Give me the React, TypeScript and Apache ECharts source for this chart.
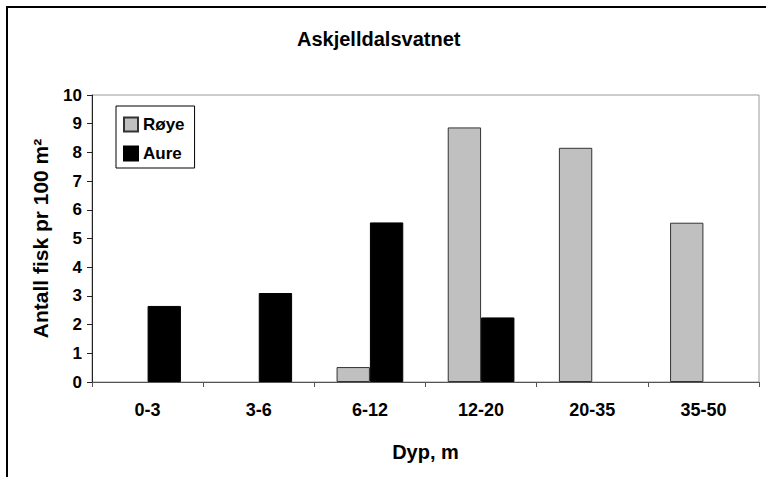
import React, { useEffect, useRef } from "react";
import * as echarts from "echarts";

const categories = ["0-3", "3-6", "6-12", "12-20", "20-35", "35-50"];
const royeValues: (number | null)[] = [null, null, 0.52, 8.87, 8.16, 5.55];
const aureValues: (number | null)[] = [2.65, 3.1, 5.56, 2.25, null, null];
const yTicks = [0, 1, 2, 3, 4, 5, 6, 7, 8, 9, 10];

const FONT = "Liberation Sans, Arial, sans-serif";

export default function App() {
  const ref = useRef<HTMLDivElement>(null);
  useEffect(() => {
    if (!ref.current) return;
    const chart = echarts.init(ref.current, undefined, { renderer: "svg" });
    chart.setOption({
      animation: false,
      backgroundColor: "#ffffff",
      title: {
        text: "Askjelldalsvatnet",
        left: 292,
        top: 24,
        textStyle: { fontFamily: FONT, fontWeight: "bold", fontSize: 20, color: "#000" },
      },
      legend: {
        orient: "vertical",
        left: 116,
        top: 106,
        padding: [10, 10, 6, 7],
        itemWidth: 14,
        itemHeight: 14,
        itemGap: 12,
        borderColor: "#000",
        borderWidth: 1,
        backgroundColor: "#fff",
        icon: "rect",
        textStyle: { fontFamily: FONT, fontWeight: "bold", fontSize: 17, color: "#000" },
        data: ["Røye", "Aure"],
      },
      graphic: [
        {
          type: "rect",
          shape: { x: 7, y: 7, width: 820, height: 520 },
          style: { fill: "none", stroke: "#000", lineWidth: 2 },
          silent: true,
        },
      ],
      grid: {
        left: 92,
        right: 7,
        top: 95,
        bottom: 95,
        show: true,
        borderColor: "#9a9a9a",
        borderWidth: 1,
        containLabel: false,
      },
      xAxis: {
        type: "category",
        data: categories,
        name: "Dyp, m",
        nameLocation: "middle",
        nameGap: 60,
        nameTextStyle: { fontFamily: FONT, fontWeight: "bold", fontSize: 20, color: "#000" },
        axisLine: { lineStyle: { color: "#555", width: 1 } },
        axisTick: { show: true, alignWithLabel: false, length: 5, lineStyle: { color: "#555" } },
        axisLabel: { margin: 19, fontFamily: FONT, fontWeight: "bold", fontSize: 18, color: "#000" },
        splitLine: { show: false },
      },
      yAxis: {
        type: "value",
        min: 0,
        max: 10,
        interval: 1,
        name: "Antall fisk pr 100 m²",
        nameLocation: "middle",
        nameRotate: 90,
        nameGap: 41,
        nameTextStyle: { fontFamily: FONT, fontWeight: "bold", fontSize: 21, color: "#000" },
        axisLine: { show: true, lineStyle: { color: "#222", width: 1 } },
        axisTick: { show: true, length: 5, lineStyle: { color: "#222" } },
        axisLabel: {
          margin: 10,
          fontFamily: FONT,
          fontWeight: "bold",
          fontSize: 17,
          color: "#000",
          formatter: (v: number) => (yTicks.includes(v) ? String(v) : ""),
        },
        splitLine: { show: false },
      },
      series: [
        {
          name: "Røye",
          type: "bar",
          data: royeValues,
          barGap: "0%",
          barCategoryGap: "40%",
          itemStyle: { color: "#c0c0c0", borderColor: "#333", borderWidth: 1 },
        },
        {
          name: "Aure",
          type: "bar",
          data: aureValues,
          barGap: "0%",
          barCategoryGap: "40%",
          itemStyle: { color: "#000", borderColor: "#000", borderWidth: 1 },
        },
      ],
    });
    return () => chart.dispose();
  }, []);
  return (
    <div
      ref={ref}
      style={{ position: "fixed", left: 0, top: 0, width: 766, height: 477 }}
    />
  );
}
